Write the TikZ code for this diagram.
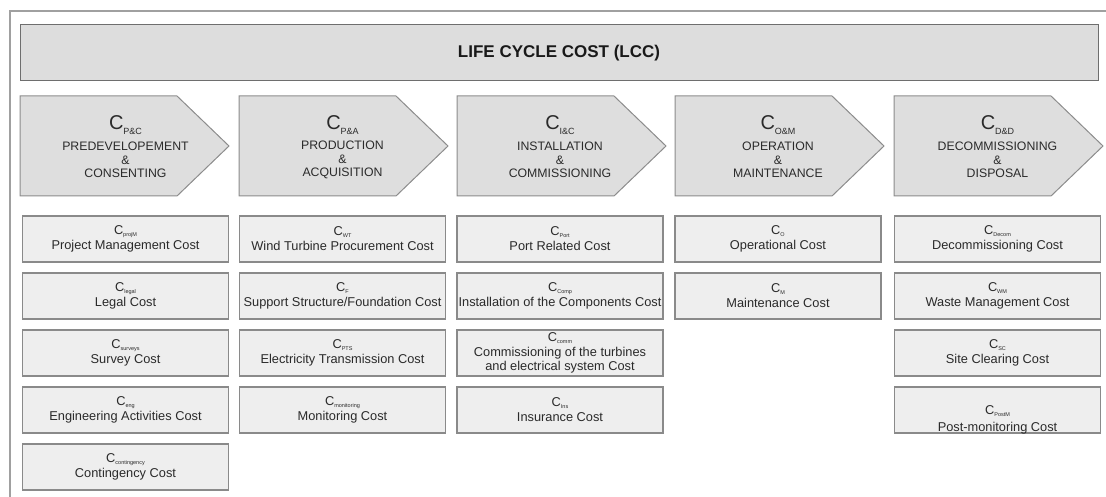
\documentclass[tikz,border=0pt]{standalone}
\usepackage{fontspec}
\setmainfont{Liberation Sans}
\definecolor{framegray}{HTML}{A0A0A0}
\definecolor{lccfill}{HTML}{DDDDDD}
\definecolor{lccline}{HTML}{6E6E6E}
\definecolor{chevfill}{HTML}{DEDEDE}
\definecolor{chevline}{HTML}{8C8C8C}
\definecolor{costfill}{HTML}{EEEEEE}
\definecolor{costline}{HTML}{8A8A8A}
\definecolor{txt}{HTML}{2A2A2A}
\newcommand\Csmall[1]{C\raisebox{-1.8pt}{\fontsize{5.5}{6}\selectfont #1}}
\newcommand\Cbig[1]{{\fontsize{20}{22}\selectfont C}\raisebox{-5pt}{\fontsize{9}{10}\selectfont #1}}
\tikzset{
  lccbox/.style={draw=lccline, fill=lccfill, line width=1pt, inner sep=0pt},
  chevshape/.style={draw=chevline, fill=chevfill, line width=1pt},
  chevhead/.style={text=txt, anchor=base, inner sep=0pt},
  chevtext/.style={text=txt, align=center, inner sep=0pt, font=\fontsize{12.3}{13.5}\selectfont},
  costbox/.style={draw=costline, fill=costfill, line width=1.1pt, minimum width=206pt, minimum height=46pt, inner sep=0pt, text=txt, align=center, font=\fontsize{12.8}{15}\selectfont},
  costlabel/.style={text=txt, anchor=base, inner sep=0pt, font=\fontsize{12.8}{15}\selectfont},
}
\begin{document}
\begin{tikzpicture}[x=1pt,y=-1pt]
\useasboundingbox (0,0) rectangle (1106,497);
% outer frame (open to right/bottom)
\draw[framegray, line width=1.5pt] (10,520) -- (10,11) -- (1120,11);
% LCC box
\node[lccbox, minimum width=1078pt, minimum height=56pt, font=\bfseries\fontsize{17}{20}\selectfont, text=black!90] (lcc) at (559,53) {LIFE CYCLE COST (LCC)};
% chevrons
\foreach \i/\l/\cx/\sub/\ta/\tb in {1/20/125.5/P\&C/PREDEVELOPEMENT/CONSENTING,
                                2/239/342.5/P\&A/PRODUCTION/ACQUISITION,
                                3/457/560/I\&C/INSTALLATION/COMMISSIONING,
                                4/675/778/O\&M/OPERATION/MAINTENANCE,
                                5/894/997.5/D\&D/DECOMMISSIONING/DISPOSAL}{
  \draw[chevshape] (\l,96) -- ({\l+157},96) -- ({\l+209},146) -- ({\l+157},196) -- (\l,196) -- cycle;
  \node[chevhead] (h\i) at (\cx,130) {\Cbig{\sub}};
  \node[chevtext] (t\i) at (\cx,160) {\ta\\\&\\\tb};
}
% cost boxes: column 1
\node[costbox] (c11) at (125.5,239) {\Csmall{projM}\\Project Management Cost};
\node[costbox] (c12) at (125.5,296) {\Csmall{legal}\\Legal Cost};
\node[costbox] (c13) at (125.5,353) {\Csmall{surveys}\\Survey Cost};
\node[costbox] (c14) at (125.5,410) {\Csmall{eng}\\Engineering Activities Cost};
\node[costbox] (c15) at (125.5,467) {\Csmall{contingency}\\Contingency Cost};
% column 2
\node[costbox] (c21) at (342.5,239) {\Csmall{WT}\\Wind Turbine Procurement Cost};
\node[costbox] (c22) at (342.5,296) {\Csmall{F}\\Support Structure/Foundation Cost};
\node[costbox] (c23) at (342.5,353) {\Csmall{PTS}\\Electricity Transmission Cost};
\node[costbox] (c24) at (342.5,410) {\Csmall{monitoring}\\Monitoring Cost};
% column 3
\node[costbox] (c31) at (560,239) {\Csmall{Port}\\Port Related Cost};
\node[costbox] (c32) at (560,296) {\Csmall{Comp}\\Installation of the Components Cost};
\node[costbox, font=\fontsize{12.8}{14.5}\selectfont] (c33) at (560,353) {\Csmall{comm}\\Commissioning of the turbines\\and electrical system Cost};
\node[costbox] (c34) at (560,410) {\Csmall{Ins}\\Insurance Cost};
% column 4
\node[costbox] (c41) at (778,239) {\Csmall{O}\\Operational Cost};
\node[costbox] (c42) at (778,296) {\Csmall{M}\\Maintenance Cost};
% column 5
\node[costbox] (c51) at (997.5,239) {\Csmall{Decom}\\Decommissioning Cost};
\node[costbox] (c52) at (997.5,296) {\Csmall{WM}\\Waste Management Cost};
\node[costbox] (c53) at (997.5,353) {\Csmall{SC}\\Site Clearing Cost};
\node[costbox] (c54) at (997.5,410) {};
\node[costlabel] (c54a) at (997.5,414.5) {\Csmall{PostM}};
\node[costlabel] (c54b) at (997.5,431) {Post-monitoring Cost};
\end{tikzpicture}
\end{document}
